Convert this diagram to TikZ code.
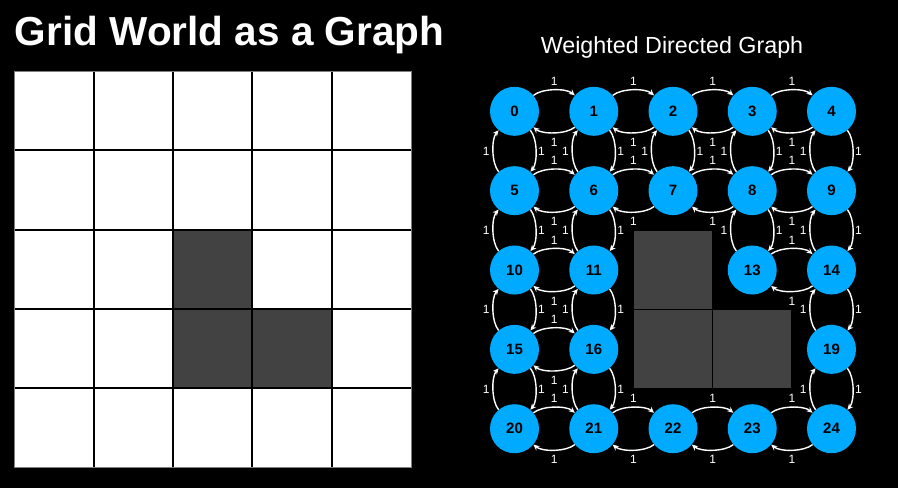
\documentclass[tikz,border=0pt]{standalone}
\usepackage{fontspec}
\setmainfont{Liberation Sans}
\usetikzlibrary{arrows.meta}
\definecolor{nodeblue}{HTML}{00AAFF}
\definecolor{blockgray}{HTML}{424242}
\begin{document}
\begin{tikzpicture}[x=1pt,y=-1pt,
  gnode/.style={circle,fill=nodeblue,minimum size=49pt,inner sep=0pt,
    font=\fontsize{15}{18}\selectfont\bfseries,text=black},
  edge/.style={white,line width=1.4pt,-{Stealth[length=6pt,width=5.5pt]},
    bend left=40,looseness=0.7},
  lbl/.style={font=\fontsize{12}{14}\selectfont,text=white,inner sep=0pt}]
\fill[black] (0,0) rectangle (898,488);
\useasboundingbox (0,0) rectangle (898,488);
% titles
\node[anchor=base west,inner sep=0pt,text=white,font=\fontsize{40.5}{48}\selectfont\bfseries]
  (title) at (14.8,45) {Grid World as a Graph};
\node[anchor=base,inner sep=0pt,text=white,font=\fontsize{23.3}{27}\selectfont]
  (subtitle) at (672,53.3) {Weighted Directed Graph};
% left grid
\fill[white] (14.5,71) rectangle (411,467.3);
\foreach \c/\r in {2/2,2/3,3/3}
  \fill[blockgray] ({14.5+79.3*\c},{71+79.26*\r}) rectangle ++(79.3,79.26);
\foreach \k in {1,...,4} {
  \draw[black,line width=2pt] ({14.5+79.3*\k},71) -- ({14.5+79.3*\k},467.3);
  \draw[black,line width=2pt] (14.5,{71+79.26*\k}) -- (411,{71+79.26*\k});
}
\draw[gray,line width=0.8pt] (14.5,71) rectangle (411,467.3);
% right obstacle blocks
\foreach \c/\r in {2/2,2/3,3/3}
  \fill[blockgray] ({514.5+79.25*\c-39},{111.3+79.35*\r-39}) rectangle ++(78,78);
% nodes
\foreach \i in {0,1,2,3,4,5,6,7,8,9,10,11,13,14,15,16,19,20,21,22,23,24} {
  \pgfmathtruncatemacro\c{mod(\i,5)}
  \pgfmathtruncatemacro\r{div(\i,5)}
  \node[gnode] (n\i) at ({514.5+79.25*\c},{111.3+79.35*\r}) {\i};
}
% horizontal edges
\foreach \a in {0,1,2,3,5,6,7,8,10,13,15,20,21,22,23} {
  \pgfmathtruncatemacro\b{\a+1}
  \draw[edge] (n\a) to node[lbl,above=3.8pt]{1} (n\b);
  \draw[edge] (n\b) to node[lbl,below=4.8pt]{1} (n\a);
}
% vertical edges
\foreach \a in {0,1,2,3,4,5,6,8,9,10,11,14,15,16,19} {
  \pgfmathtruncatemacro\b{\a+5}
  \draw[edge] (n\a) to node[lbl,right=1.5pt]{1} (n\b);
  \draw[edge] (n\b) to node[lbl,left=3pt]{1} (n\a);
}
\end{tikzpicture}
\end{document}
